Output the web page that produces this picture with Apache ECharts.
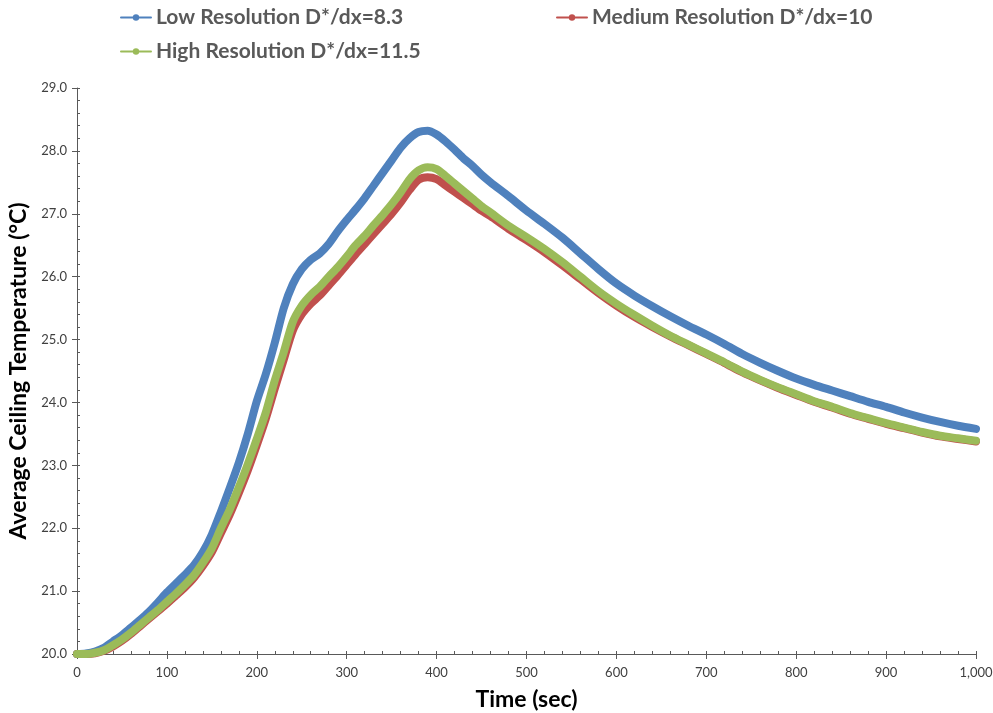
<!DOCTYPE html>
<html>
<head>
<meta charset="utf-8">
<script src="https://cdn.jsdelivr.net/npm/echarts@6/dist/echarts.min.js"></script>
<style>html,body{margin:0;padding:0;background:#fff}#c{width:993px;height:713px}</style>
</head>
<body>
<div id="c"></div>
<script>
const times = [0,10,20,30,40,50,60,70,80,90,100,110,120,130,140,150,160,170,180,190,200,210,220,230,240,250,260,270,280,290,300,310,320,330,340,350,360,370,380,390,400,410,420,430,440,450,460,480,500,520,540,560,580,600,620,640,660,680,700,720,740,760,780,800,820,840,860,880,900,920,940,960,980,1000];
const lowRes = [20.00,20.01,20.04,20.10,20.20,20.30,20.42,20.54,20.67,20.82,20.98,21.12,21.26,21.41,21.62,21.90,22.26,22.64,23.04,23.50,24.02,24.45,24.95,25.50,25.88,26.12,26.27,26.37,26.52,26.72,26.90,27.07,27.25,27.45,27.65,27.85,28.05,28.20,28.30,28.32,28.26,28.15,28.02,27.88,27.76,27.62,27.50,27.28,27.05,26.84,26.62,26.37,26.12,25.89,25.70,25.53,25.37,25.22,25.08,24.93,24.77,24.63,24.50,24.38,24.28,24.19,24.10,24.01,23.93,23.84,23.76,23.69,23.63,23.58];
const medRes = [20.00,20.00,20.01,20.05,20.12,20.21,20.32,20.44,20.56,20.68,20.80,20.93,21.06,21.21,21.40,21.62,21.92,22.22,22.56,22.92,23.32,23.74,24.22,24.68,25.14,25.40,25.57,25.70,25.86,26.02,26.19,26.36,26.52,26.68,26.84,27.00,27.18,27.38,27.54,27.58,27.55,27.45,27.35,27.25,27.15,27.05,26.96,26.76,26.58,26.39,26.18,25.96,25.74,25.54,25.36,25.20,25.05,24.91,24.77,24.63,24.48,24.35,24.23,24.12,24.01,23.92,23.82,23.74,23.66,23.59,23.52,23.46,23.42,23.38];
const highRes = [20.00,20.00,20.02,20.06,20.14,20.23,20.34,20.46,20.58,20.70,20.83,20.96,21.10,21.25,21.45,21.68,22.00,22.30,22.65,23.02,23.42,23.84,24.35,24.80,25.28,25.54,25.71,25.84,26.00,26.15,26.32,26.50,26.65,26.82,26.98,27.15,27.34,27.55,27.69,27.74,27.71,27.60,27.48,27.36,27.24,27.12,27.02,26.81,26.63,26.44,26.23,26.00,25.77,25.57,25.39,25.22,25.06,24.92,24.78,24.64,24.49,24.36,24.24,24.13,24.02,23.93,23.83,23.75,23.67,23.60,23.53,23.47,23.43,23.39];
const xTicks = [0,100,200,300,400,500,600,700,800,900,1000];
const yTicks = [20,21,22,23,24,25,26,27,28,29];
const seriesNames = ['Low Resolution D*/dx=8.3','Medium Resolution D*/dx=10','High Resolution D*/dx=11.5'];
const colors = ['#4F81BD','#C0504D','#9BBB59'];

const pairs = arr => times.map((t,i)=>[t,arr[i]]);
const fam = 'Lato, "Open Sans", sans-serif';
const legendText = {fontFamily: fam, fontWeight:'bold', fontSize:21, color:'#595959'};
const mkLegend = (name, left, top) => ({data:[name], left, top, itemWidth:30, itemHeight:8, itemGap:0, textStyle:legendText, padding:0, selectedMode:false});

const chart = echarts.init(document.getElementById('c'), null, {renderer:'canvas'});
const axisColor = '#595959';
chart.setOption({
  animation:false,
  color: colors,
  legend:[mkLegend(seriesNames[0],120,7), mkLegend(seriesNames[1],556,7), mkLegend(seriesNames[2],120,41)],
  grid:{left:77,right:17,top:88,bottom:59,containLabel:false,outerBoundsMode:'none'},
  xAxis:[{
    type:'value', min:xTicks[0], max:xTicks[xTicks.length-1], interval:100,
    name:'Time (sec)', nameLocation:'middle', nameGap:34,
    nameTextStyle:{fontFamily:fam,fontWeight:'bold',fontSize:23,color:'#000'},
    axisLine:{show:true,lineStyle:{color:axisColor,width:1}},
    axisTick:{show:true,length:5,lineStyle:{color:axisColor}},
    minorTick:{show:false},
    axisLabel:{margin:12,fontFamily:fam,fontSize:13,color:'#404040',formatter:v=>v.toLocaleString('en-US')},
    splitLine:{show:false}
  },{
    type:'value', min:xTicks[0], max:xTicks[xTicks.length-1], interval:100, position:'bottom',
    axisLine:{show:false}, axisLabel:{show:false}, splitLine:{show:false},
    axisTick:{show:true,inside:true,length:3,lineStyle:{color:axisColor}},
    minorTick:{show:true,splitNumber:5,length:3,lineStyle:{color:axisColor}}
  }],
  yAxis:[{
    type:'value', min:yTicks[0], max:yTicks[yTicks.length-1], interval:1,
    name:'Average Ceiling Temperature (°C)', nameLocation:'middle', nameGap:42,
    nameTextStyle:{fontFamily:fam,fontWeight:'bold',fontSize:23,color:'#000'},
    axisLine:{show:true,lineStyle:{color:axisColor,width:1}},
    axisTick:{show:true,length:5,lineStyle:{color:axisColor}},
    axisLabel:{margin:10,fontFamily:fam,fontSize:13,color:'#404040',formatter:v=>v.toFixed(1)},
    splitLine:{show:false}
  },{
    type:'value', min:yTicks[0], max:yTicks[yTicks.length-1], interval:1, position:'left',
    axisLine:{show:false}, axisLabel:{show:false}, splitLine:{show:false},
    axisTick:{show:true,inside:true,length:3,lineStyle:{color:axisColor}},
    minorTick:{show:true,splitNumber:5,length:3,lineStyle:{color:axisColor}}
  }],
  series:[lowRes,medRes,highRes].map((arr,i)=>({
    name:seriesNames[i], type:'line', data:pairs(arr), smooth:0.25,
    symbol:'circle', symbolSize:8, showSymbol:false,
    lineStyle:{width:8,color:colors[i],cap:'round',join:'round'},
    itemStyle:{color:colors[i]}
  }))
});
</script>
</body>
</html>
